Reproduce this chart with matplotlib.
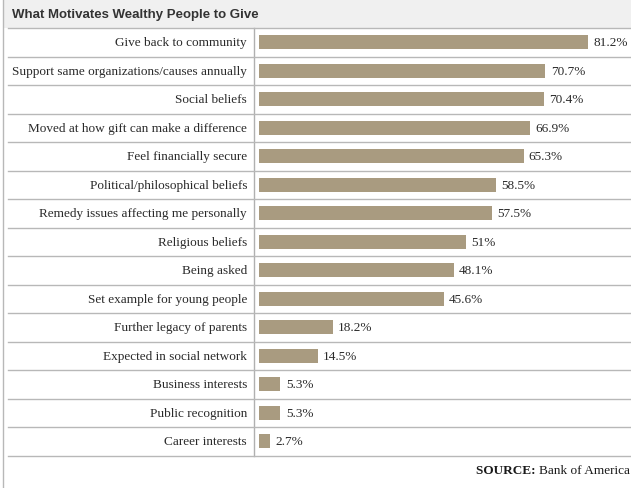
import matplotlib
matplotlib.use("Agg")
import matplotlib.pyplot as plt
from matplotlib.transforms import blended_transform_factory

categories = [
    "Give back to community",
    "Support same organizations/causes annually",
    "Social beliefs",
    "Moved at how gift can make a difference",
    "Feel financially secure",
    "Political/philosophical beliefs",
    "Remedy issues affecting me personally",
    "Religious beliefs",
    "Being asked",
    "Set example for young people",
    "Further legacy of parents",
    "Expected in social network",
    "Business interests",
    "Public recognition",
    "Career interests",
]
values = [81.2, 70.7, 70.4, 66.9, 65.3, 58.5, 57.5, 51, 48.1, 45.6, 18.2, 14.5, 5.3, 5.3, 2.7]
title = "What Motivates Wealthy People to Give"

W, H = 631, 489
fig = plt.figure(figsize=(W / 100, H / 100), dpi=100)
fig.patch.set_facecolor("white")

bg = fig.add_axes([0, 0, 1, 1])
bg.set_xlim(0, W)
bg.set_ylim(H, 0)
bg.axis("off")

top, bottom = 29, 456.5
bg.add_patch(plt.Rectangle((3, 0), W - 3, top, facecolor="#f0f0f0", edgecolor="none"))
bg.plot([3, 3], [0, H], color="#b8b8b8", lw=1)
bg.text(12, 15, title, fontsize=9.5, fontweight="bold", family="Liberation Sans",
        color="#333333", va="center", ha="left")

sep = 254
bg.plot([sep, sep], [top, bottom], color="#b0b0b0", lw=1)

ax = fig.add_axes([259 / W, (H - bottom) / H, (W - 259) / W, (bottom - top) / H])
n = len(categories)
xmax = (W - 259) / 4.052
ax.set_xlim(0, xmax)
ax.set_ylim(n - 0.5, -0.5)
ax.axis("off")

ypos = list(range(n))
ax.barh(ypos, values, height=0.5, color="#a99b80", edgecolor="none")

tr = blended_transform_factory(fig.transFigure, ax.transData)
for i in range(n + 1):
    ax.plot([8 / W, 1], [i - 0.5, i - 0.5], transform=tr, color="#b8b8b8", lw=1, clip_on=False)

for y, v, c in zip(ypos, values, categories):
    ax.annotate(f"{v:g}%", (v, y), xytext=(3.8, 0), textcoords="offset points",
                va="center", ha="left", fontsize=9.5, family="Liberation Serif", color="#2a2a2a")
    ax.annotate(c, (0, y), xytext=(-8.6, 0), textcoords="offset points",
                va="center", ha="right", fontsize=9.5, family="Liberation Serif", color="#2a2a2a")

src = bg.text(W - 1, 471, "Bank of America", fontsize=9.5, family="Liberation Serif",
              color="#1a1a1a", va="center", ha="right")
fig.canvas.draw()
r = fig.canvas.get_renderer()
bbox = src.get_window_extent(renderer=r)
fig.text(bbox.x0 / W, (bbox.y0 + bbox.y1) / 2 / H, "SOURCE: ", fontsize=9.5,
         fontweight="bold", family="Liberation Serif", color="#1a1a1a",
         va="center", ha="right")

fig.savefig("out.png", dpi=100)
